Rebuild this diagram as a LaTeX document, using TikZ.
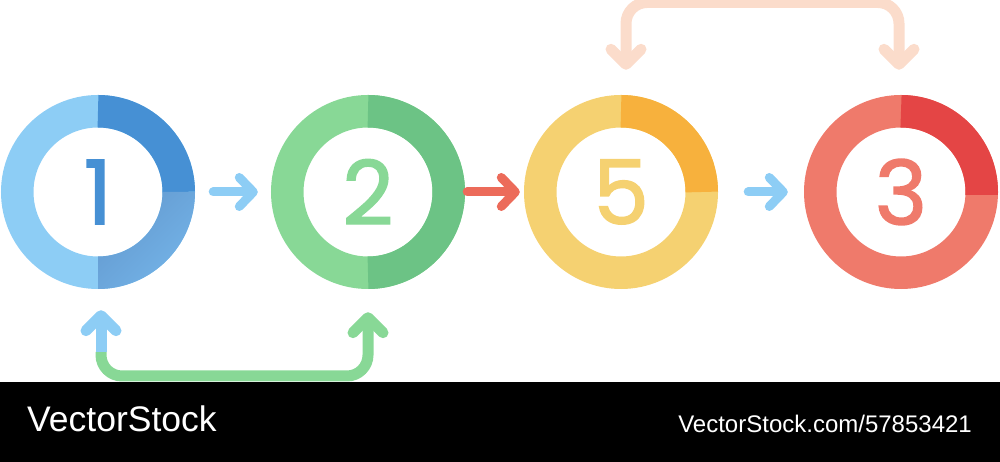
\documentclass[tikz,border=0pt]{standalone}
\usepackage{fontspec}
\setmainfont{Liberation Sans}
\newfontfamily\digitfont[FakeBold=1.6]{Poppins}
\usetikzlibrary{arrows.meta,calc}
\definecolor{ltblue}{HTML}{8DCDF5}
\definecolor{dkblue}{HTML}{4690D4}
\definecolor{mdblueA}{HTML}{6399CF}
\definecolor{mdblueB}{HTML}{74B4E8}
\definecolor{ltgreen}{HTML}{88D896}
\definecolor{dkgreen}{HTML}{6CC385}
\definecolor{ltyellow}{HTML}{F5D171}
\definecolor{dkorange}{HTML}{F7B13D}
\definecolor{ltred}{HTML}{EF7A6B}
\definecolor{dkred}{HTML}{E44545}
\definecolor{arrowred}{HTML}{EC6B5A}
\definecolor{peach}{HTML}{FBDCCB}
\tikzset{
  x=1pt, y=1pt,
  stepnode/.style={circle, minimum size=194pt, inner sep=0pt,
    font=\digitfont\fontsize{89}{89}\selectfont},
  ring/.style={line width=32.5pt, line cap=butt},
  smalltip/.tip={Straight Barb[length=14pt, width=29pt, round]},
  bigtip/.tip={Straight Barb[length=15pt, width=30pt, round]},
  smallarrow/.style={line width=9pt, line cap=round, -smalltip},
  bigline/.style={line width=11pt, line cap=butt, rounded corners=21pt},
  bandtext/.style={anchor=base west, inner sep=0pt, text=white}
}
\begin{document}
\begin{tikzpicture}
\useasboundingbox (0,0) rectangle (1000,462);
% step nodes
\node[stepnode, text=dkblue] (c1) at (98,270) {1};
\node[stepnode, text=ltgreen] (c2) at (368,270) {2};
\node[stepnode, text=ltyellow] (c5) at (621,270) {5};
\node[stepnode, text=ltred] (c3) at (901,270) {3};
% ring 1
\draw[ring, ltblue] (c1.center) circle[radius=80.75];
\draw[ring, dkblue] (c1.center) ++(0:80.75) arc[start angle=0, end angle=90, radius=80.75];
\shade[left color=mdblueA, right color=mdblueB, shading angle=45]
  (c1.center) ++(-90:97) arc[start angle=-90, end angle=0, radius=97]
  -- ++(-32.5,0) arc[start angle=0, end angle=-90, radius=64.5] -- cycle;
% ring 2
\draw[ring, ltgreen] (c2.center) circle[radius=80.75];
\draw[ring, dkgreen] (c2.center) ++(-90:80.75) arc[start angle=-90, end angle=90, radius=80.75];
% ring 5
\draw[ring, ltyellow] (c5.center) circle[radius=80.75];
\draw[ring, dkorange] (c5.center) ++(0:80.75) arc[start angle=0, end angle=90, radius=80.75];
% ring 3
\draw[ring, ltred] (c3.center) circle[radius=80.75];
\draw[ring, dkred] (c3.center) ++(-2:80.75) arc[start angle=-2, end angle=90, radius=80.75];
% arrows between steps
\draw[smallarrow, ltblue, shorten <=18pt, shorten >=13pt] (c1.east) -- (c2.west);
\draw[smallarrow, arrowred, shorten <=2pt, shorten >=4pt] (c2.east) -- (c5.west);
\draw[smallarrow, ltblue, shorten <=30pt, shorten >=16pt] (c5.east) -- (c3.west);
% bottom connector
\coordinate (bm) at (101,110);
\coordinate (bl) at (101,86);
\coordinate (br) at (368,86);
\draw[bigline, ltgreen, -bigtip, shorten >=23pt] (bm) -- (bl) -- (br) -- (c2.south);
\draw[bigline, ltblue, -bigtip, shorten >=21pt] (bm) -- (c1.south -| bm);
% top connector
\coordinate (tl) at (626,459.5);
\coordinate (tr) at (899,459.5);
\draw[bigline, peach, bigtip-bigtip, shorten <=25pt, shorten >=25pt]
  (c5.north -| tl) -- (tl) -- (tr) -- (c3.north -| tr);
% bottom band
\fill[black] (0,0) rectangle (1000,80);
\node[bandtext, font=\fontsize{35.5}{35.5}\selectfont] (wm1) at (27,30) {VectorStock};
\node[bandtext, anchor=base east, font=\fontsize{24}{24}\selectfont] (wm2) at (972,29) {VectorStock.com/57853421};
\end{tikzpicture}
\end{document}
